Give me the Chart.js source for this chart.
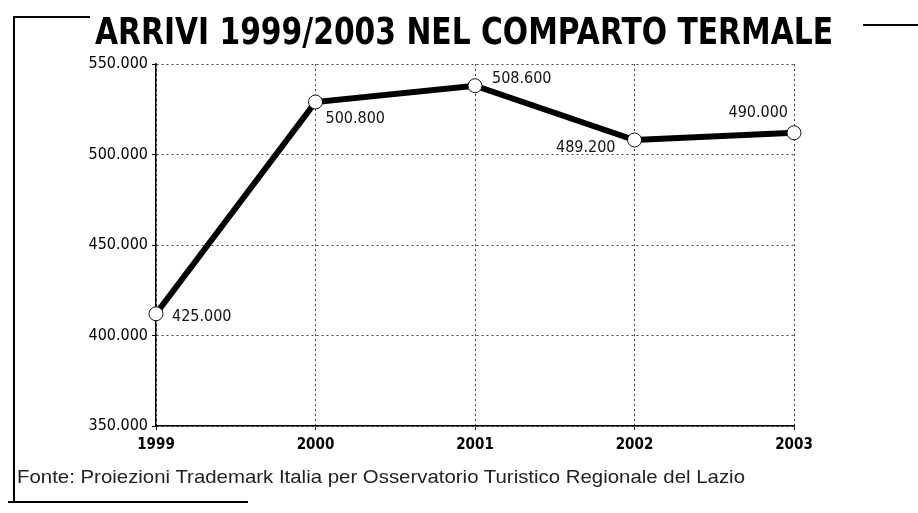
<!DOCTYPE html>
<html>
<head>
<meta charset="utf-8">
<script src="https://cdn.jsdelivr.net/npm/chart.js@4/dist/chart.umd.min.js"></script>
<style>
  html, body { margin:0; padding:0; background:#fff; }
  #wrap { position:relative; width:918px; height:513px; overflow:hidden; }
  #chart { position:absolute; left:0; top:0; }
  .fit { position:absolute; white-space:nowrap; transform-origin:0 0; line-height:1; color:#000; }
  #title { left:95px; top:13px; font-family:"DejaVu Sans",sans-serif; font-weight:bold; font-size:37px; }
  #source { left:17px; top:467px; font-family:"Liberation Sans",Arial,sans-serif; font-size:19px; color:#222; }
  .rule { position:absolute; background:#000; }
</style>
</head>
<body>
<div id="wrap">
  <canvas id="chart" width="918" height="513"></canvas>
  <div class="rule" style="left:13px;top:16px;width:77px;height:2px;"></div>
  <div class="rule" style="left:13px;top:16px;width:2px;height:486px;"></div>
  <div class="rule" style="left:8px;top:501px;width:240px;height:2px;"></div>
  <div class="rule" style="left:863px;top:24px;width:55px;height:2px;"></div>
  <div id="title" class="fit" data-w="738">ARRIVI 1999/2003 NEL COMPARTO TERMALE</div>
  <div id="source" class="fit" data-w="728">Fonte: Proiezioni Trademark Italia per Osservatorio Turistico Regionale del Lazio</div>
</div>
<script>
// data
const years = ["1999", "2000", "2001", "2002", "2003"];
const arrivi = [412000, 529000, 538000, 508000, 512000];
const valueLabels = ["425.000", "500.800", "508.600", "489.200", "490.000"];
const yTicks = [350000, 400000, 450000, 500000, 550000];

// where each value label sits relative to its point
const labelPos = [
    {dx:16, dy:3, align:"left"},
    {dx:10, dy:17, align:"left"},
    {dx:17, dy:-7, align:"left"},
    {dx:-19, dy:8, align:"right"},
    {dx:-6, dy:-20, align:"right"}
];

function fmt(v){
    return String(v).replace(/\B(?=(\d{3})+(?!\d))/g, ".");
}

document.querySelectorAll(".fit").forEach(el=>{
    const w = el.getBoundingClientRect().width;
    el.style.transform = `scaleX(${el.dataset.w / w})`;
});

const valueLabelPlugin = {
    id: "valueLabels",
    afterDatasetsDraw(chart){
        const ctx = chart.ctx;
        const pts = chart.getDatasetMeta(0).data;
        ctx.save();
        ctx.font = '16px "DejaVu Sans Condensed", "DejaVu Sans", sans-serif';
        ctx.fillStyle = "#111";
        ctx.textBaseline = "middle";
        pts.forEach((p, i)=>{
            const pos = labelPos[i];
            ctx.textAlign = pos.align;
            ctx.fillText(valueLabels[i], p.x + pos.dx, p.y + pos.dy);
        });
        ctx.restore();
    }
};

const gridStyle = {
    color: "#444",
    lineWidth: 1,
    tickLength: 4,
    tickColor: "#000"
};

new Chart(document.getElementById("chart").getContext("2d"), {
    type: "line",
    data: {
        labels: years,
        datasets: [{
            data: arrivi,
            borderColor: "#000",
            borderWidth: 6,
            tension: 0,
            pointRadius: 7,
            pointHoverRadius: 7,
            pointBackgroundColor: "#fff",
            pointBorderColor: "#111",
            pointBorderWidth: 1,
            clip: false
        }]
    },
    options: {
        responsive: false,
        animation: false,
        layout: { padding: { left: 0, top: 64, right: 124, bottom: 0 } },
        plugins: { legend: { display: false }, tooltip: { enabled: false } },
        scales: {
            x: {
                offset: false,
                grid: Object.assign({}, gridStyle),
                border: { display: true, color: "#000", width: 1.5, dash: [2, 3] },
                ticks: {
                    padding: 6,
                    color: "#000",
                    font: { family: '"DejaVu Sans Condensed", "DejaVu Sans", sans-serif', size: 15, weight: "bold" },
                    maxRotation: 0
                },
                afterFit(scale){ scale.height = 87; }
            },
            y: {
                min: 350000,
                max: 550000,
                grid: Object.assign({}, gridStyle),
                border: { display: true, color: "#000", width: 1.5, dash: [2, 3] },
                afterBuildTicks(scale){ scale.ticks = yTicks.map(v=>({value: v})); },
                ticks: {
                    padding: 4,
                    color: "#000",
                    font: { family: '"DejaVu Sans Condensed", "DejaVu Sans", sans-serif', size: 16 },
                    callback: v=>fmt(v)
                },
                afterFit(scale){ scale.width = 156; }
            }
        }
    },
    plugins: [valueLabelPlugin]
});
</script>
</body>
</html>
